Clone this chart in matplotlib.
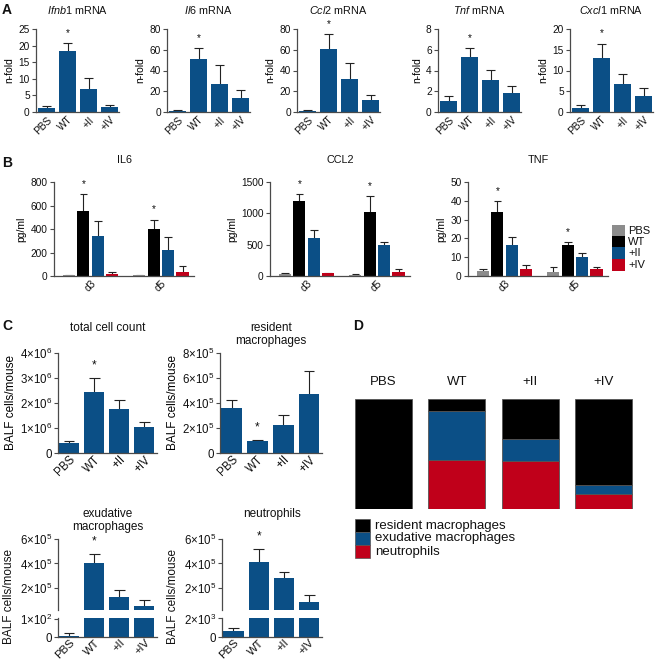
import numpy as np
import matplotlib.pyplot as plt
from matplotlib.patches import Rectangle
from matplotlib.ticker import FuncFormatter

plt.rcParams['font.family'] = ['Liberation Sans', 'DejaVu Sans']
plt.rcParams['mathtext.fontset'] = 'custom'
plt.rcParams['mathtext.rm'] = 'Liberation Sans'
plt.rcParams['mathtext.it'] = 'Liberation Sans:italic'
plt.rcParams['mathtext.bf'] = 'Liberation Sans:bold'
plt.rcParams['text.color'] = '#111111'
plt.rcParams['xtick.color'] = '#111111'
plt.rcParams['ytick.color'] = '#111111'

# ---- data ----
groups = ['PBS', 'WT', '+II', '+IV']

# A: mRNA n-fold
mrna_genes = ['Ifnb1', 'Il6', 'Ccl2', 'Tnf', 'Cxcl1']
mrna_mean = [[1.1, 18.4, 6.9, 1.4],
             [1.0, 50.9, 26.6, 13.1],
             [0.6, 60.8, 32.0, 11.2],
             [1.02, 5.31, 3.07, 1.86],
             [0.96, 13.0, 6.8, 3.84]]
mrna_err = [[0.8, 2.3, 3.3, 0.8],
            [0.6, 10.5, 18.8, 8.0],
            [1.0, 14.1, 15.7, 4.8],
            [0.52, 0.83, 0.99, 0.60],
            [0.64, 3.4, 2.3, 1.92]]
mrna_ymax = [25, 80, 80, 8, 20]
mrna_step = [5, 20, 20, 2, 5]

# B: cytokines pg/ml, rows = d3, d5
days = ['d3', 'd5']
cyto_names = ['IL6', 'CCL2', 'TNF']
cyto_mean = [[[9, 552, 339, 20], [6, 397, 219, 37]],
             [[32, 1194, 602, 43], [22, 1027, 489, 64]],
             [[2.9, 34.3, 16.4, 3.6], [2.3, 16.4, 10.2, 3.6]]]
cyto_err = [[[2, 144, 127, 15], [1, 81, 112, 44]],
            [[22, 107, 129, 11], [10, 242, 59, 54]],
            [[1.0, 5.5, 4.3, 2.1], [2.7, 1.5, 2.3, 1.2]]]
cyto_ymax = [800, 1500, 50]
cyto_step = [200, 500, 10]

# C: BALF cells/mouse
total_mean = [0.40e6, 2.45e6, 1.76e6, 1.04e6]
total_err = [0.08e6, 0.54e6, 0.35e6, 0.19e6]
resident_mean = [3.6e5, 0.93e5, 2.24e5, 4.72e5]
resident_err = [0.61e5, 0.11e5, 0.77e5, 1.81e5]
exud_mean = [8, 4.04e5, 1.27e5, 0.53e5]
exud_err = [14, 0.74e5, 0.57e5, 0.49e5]
neut_mean = [600, 4.12e5, 2.82e5, 0.86e5]
neut_err = [400, 1.06e5, 0.49e5, 0.57e5]

# D: composition fractions
frac_resident = [1.0, 0.11, 0.36, 0.78]
frac_exud = [0.0, 0.44, 0.20, 0.08]
frac_neut = [0.0, 0.45, 0.44, 0.14]

BLUE = '#0b4f86'
RED = '#c0001a'
GREY = '#8c8c8c'
AXC = '#4a4a4a'
ERRC = '#222222'

W, H = 655, 663
fig = plt.figure(figsize=(6.55, 6.63), dpi=100)


def add_ax(x0, y0, x1, y1):
    return fig.add_axes([x0 / W, 1 - y1 / H, (x1 - x0) / W, (y1 - y0) / H])


def ft(x, y, s, **kw):
    return fig.text(x / W, 1 - y / H, s, **kw)


def sci(v, pos=None):
    if v == 0:
        return '0'
    e = int(np.floor(np.log10(abs(v)) + 1e-9))
    m = v / 10 ** e
    return r'$%d{\times}10^{%d}$' % (round(m), e)


def style(ax, fs, xlen=0, xpad=2):
    for s in ['top', 'right']:
        ax.spines[s].set_visible(False)
    for s in ['left', 'bottom']:
        ax.spines[s].set_color(AXC)
        ax.spines[s].set_linewidth(0.9)
    ax.tick_params(axis='y', length=3, width=0.8, color=AXC, pad=1.5, labelsize=fs)
    ax.tick_params(axis='x', length=xlen, width=0.8, color=AXC, pad=xpad, labelsize=fs)


def draw_bars(ax, x, vals, errs, colors, width, cap=0.26):
    x = np.asarray(x, dtype=float)
    vals = np.asarray(vals, dtype=float)
    tops = vals + np.asarray(errs, dtype=float)
    ax.vlines(x, vals, tops, color=ERRC, lw=0.8, zorder=1)
    ax.hlines(tops, x - width * cap, x + width * cap, color=ERRC, lw=0.8, zorder=1)
    ax.bar(x, vals, width=width, color=colors, edgecolor='none', zorder=2)
    return tops


def star(ax, x, y, fs, off=4):
    ax.annotate('*', xy=(x, y), xytext=(0, off), textcoords='offset points',
                ha='center', va='bottom', fontsize=fs)


# ---------------- A ----------------
ft(2, 10, 'A', fontsize=10, weight='bold', va='center')
a_left = [36, 167, 297, 438, 570]
xa = np.arange(4)
for k, gene in enumerate(mrna_genes):
    ax = add_ax(a_left[k], 29, a_left[k] + 83, 112)
    style(ax, 7.3)
    tops = draw_bars(ax, xa, mrna_mean[k], mrna_err[k], BLUE, 0.8)
    star(ax, 1, tops[1], 7.3)
    ax.set_xlim(-0.5, 3.45)
    ax.set_ylim(0, mrna_ymax[k])
    ax.set_yticks(np.arange(0, mrna_ymax[k] + 0.01, mrna_step[k]))
    ax.set_xticks(xa)
    ax.set_xticklabels(groups, rotation=45, ha='right', rotation_mode='anchor')
    ax.set_ylabel('n-fold', fontsize=7.5, labelpad=3)
    ft(a_left[k] + 41.5, 10, r'$\it{%s}$ mRNA' % gene, fontsize=7.8,
       ha='center', va='center')

# ---------------- B ----------------
ft(2, 163, 'B', fontsize=10, weight='bold', va='center')
b_left = [54, 270, 468]
b_colors = [GREY, 'black', BLUE, RED]
gap = 4.9
for k, name in enumerate(cyto_names):
    ax = add_ax(b_left[k], 182, b_left[k] + 140, 276)
    style(ax, 7.3, xlen=0)
    for d in range(len(days)):
        xb = d * gap + (np.arange(4) - 1.5)
        tops = draw_bars(ax, xb, cyto_mean[k][d], cyto_err[k][d], b_colors, 0.84, cap=0.32)
        star(ax, xb[1], tops[1], 7.3)
    ax.set_xlim(-2.55, 7.2)
    ax.set_ylim(0, cyto_ymax[k])
    ax.set_yticks(np.arange(0, cyto_ymax[k] + 0.01, cyto_step[k]))
    ax.set_xticks([0, gap])
    ax.set_xticklabels(days, rotation=45, ha='right', rotation_mode='anchor')
    ax.set_ylabel('pg/ml', fontsize=7.5, labelpad=3)
    ft(b_left[k] + 70, 160, name, fontsize=7.8, ha='center', va='center')

# legend B
for i, (lab, c) in enumerate(zip(groups, b_colors)):
    fig.add_artist(Rectangle((612 / W, 1 - (224.5 + 11.5 * (i + 1)) / H), 13 / W, 11.5 / H,
                             transform=fig.transFigure, facecolor=c, edgecolor='none'))
    ft(628, 230.5 + 11.5 * i, lab, fontsize=8, va='center')

# ---------------- C ----------------
ft(2, 326, 'C', fontsize=10, weight='bold', va='center')
xc = np.arange(4)
fmt = FuncFormatter(sci)


def c_axis(ax):
    style(ax, 8.3, xpad=0.5)
    ax.set_xlim(-0.45, 3.5)
    ax.yaxis.set_major_formatter(fmt)


ax = add_ax(58, 353, 157, 453)
c_axis(ax)
tops = draw_bars(ax, xc, total_mean, total_err, BLUE, 0.8)
star(ax, 1, tops[1], 8.5, off=5)
ax.set_ylim(0, 4e6)
ax.set_yticks(np.arange(0, 4.01e6, 1e6))
ax.set_xticks(xc)
ax.set_xticklabels(groups, rotation=45, ha='right', rotation_mode='anchor')
ax.set_ylabel('BALF cells/mouse', fontsize=8.5, labelpad=2)
ft(107.5, 322, 'total cell count', fontsize=8.5, ha='center', va='top')

ax = add_ax(220, 353, 322, 453)
c_axis(ax)
tops = draw_bars(ax, xc, resident_mean, resident_err, BLUE, 0.8)
star(ax, 1, tops[1], 8.5, off=5)
ax.set_ylim(0, 8e5)
ax.set_yticks(np.arange(0, 8.01e5, 2e5))
ax.set_xticks(xc)
ax.set_xticklabels(groups, rotation=45, ha='right', rotation_mode='anchor')
ax.set_ylabel('BALF cells/mouse', fontsize=8.5, labelpad=2)
ft(271, 322, 'resident\nmacrophages', fontsize=8.5, ha='center', va='top',
   linespacing=1.15)

broken = [(58, 157, exud_mean, exud_err, 105, 100, 'exudative\nmacrophages'),
          (222, 322, neut_mean, neut_err, 2050, 2000, 'neutrophils')]
for x0, x1, mean, err, lo_max, lo_tick, title in broken:
    up = add_ax(x0, 539, x1, 610)
    c_axis(up)
    up.spines['bottom'].set_visible(False)
    tops = draw_bars(up, xc, mean, err, BLUE, 0.8)
    star(up, 1, tops[1], 8.5, off=5)
    up.set_ylim(2e4, 6e5)
    up.set_yticks([2e5, 4e5, 6e5])
    up.set_xticks([])

    lo = add_ax(x0, 618, x1, 637)
    c_axis(lo)
    draw_bars(lo, xc, mean, err, BLUE, 0.8)
    lo.set_ylim(0, lo_max)
    lo.set_yticks([0, lo_tick])
    lo.set_xticks(xc)
    lo.set_xticklabels(groups, rotation=45, ha='right', rotation_mode='anchor',
                       fontsize=8.1)
    ft(x0 - 49, 596, 'BALF cells/mouse', fontsize=8.5, rotation=90,
       ha='center', va='center')
    ft((x0 + x1) / 2, 508, title, fontsize=8.5, ha='center', va='top', linespacing=1.15)

# ---------------- D ----------------
ft(353, 326, 'D', fontsize=10, weight='bold', va='center')
axd = add_ax(339.5, 399, 647.5, 509)
xd = np.arange(4)
kw = dict(width=0.78, edgecolor='#555555', linewidth=0.6)
axd.bar(xd, frac_neut, color=RED, **kw)
axd.bar(xd, frac_exud, bottom=frac_neut, color=BLUE, **kw)
axd.bar(xd, frac_resident, bottom=np.add(frac_neut, frac_exud), color='black', **kw)
axd.set_xlim(-0.6, 3.6)
axd.set_ylim(0, 1)
axd.axis('off')
for i, g in enumerate(groups):
    axd.annotate(g, xy=(xd[i], 1), xytext=(0, 17), textcoords='offset pixels',
                 ha='center', va='center', fontsize=9.5, annotation_clip=False)

d_labels = ['resident macrophages', 'exudative macrophages', 'neutrophils']
d_colors = ['black', BLUE, RED]
for i, (lab, c) in enumerate(zip(d_labels, d_colors)):
    fig.add_artist(Rectangle((355 / W, 1 - (519 + 13 * (i + 1)) / H), 15 / W, 13 / H,
                             transform=fig.transFigure, facecolor=c, edgecolor='#555555',
                             linewidth=0.5))
    ft(375, 525.5 + 13 * i, lab, fontsize=9.5, va='center')

fig.savefig('out.png', dpi=100)
